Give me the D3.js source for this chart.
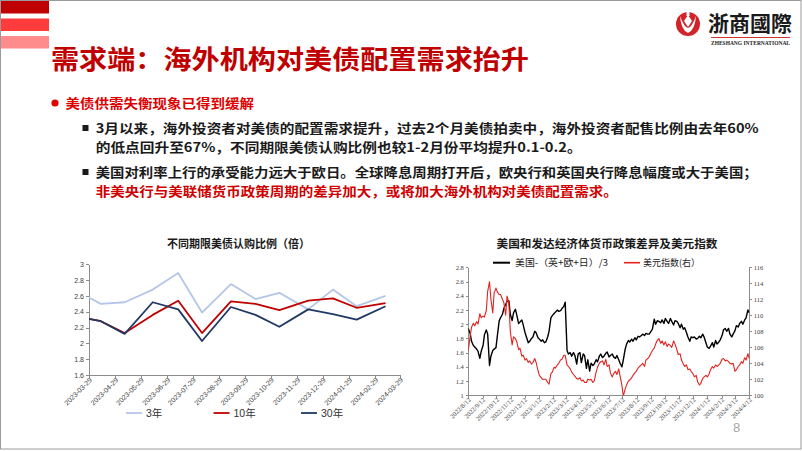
<!DOCTYPE html>
<html>
<head>
<meta charset="utf-8">
<title>需求端：海外机构对美债配置需求抬升</title>
<style>
  body { margin: 0; background: #fff; }
  svg { display: block; font-family: "Noto Sans CJK SC", sans-serif; }
  .ax path, .ax line { stroke: #8c8c8c; shape-rendering: crispEdges; }
  .ax1 text { font-family: "Liberation Sans", Arial, sans-serif; font-size: 7px; fill: #404040; }
  .ax2 text { font-family: "Liberation Serif", serif; font-size: 6.5px; fill: #404040; }
</style>
<script src="https://cdn.jsdelivr.net/npm/d3@7"></script>
</head>
<body>
<script>
// ---- left chart: bid-to-cover by tenor (10y auction date used for each month)
var auctionDates = ["2023-03-08","2023-04-12","2023-05-10","2023-06-12","2023-07-12","2023-08-09",
  "2023-09-12","2023-10-11","2023-11-08","2023-12-12","2024-01-10","2024-02-07","2024-03-12"];
var bid3y  = [2.70, 2.50, 2.52, 2.68, 2.89, 2.39, 2.75, 2.56, 2.64, 2.43, 2.68, 2.47, 2.60];
var bid10y = [2.355, 2.28, 2.13, 2.36, 2.54, 2.13, 2.53, 2.50, 2.42, 2.54, 2.57, 2.45, 2.51];
var bid30y = [2.355, 2.28, 2.12, 2.52, 2.43, 2.03, 2.46, 2.36, 2.21, 2.43, 2.37, 2.30, 2.47];
var leftXTicks = ["2023-03-29","2023-04-29","2023-05-29","2023-06-29","2023-07-29","2023-08-29",
  "2023-09-29","2023-10-29","2023-11-29","2023-12-29","2024-01-29","2024-02-29","2024-03-29"];
var leftYTicks = [1.6, 1.8, 2, 2.2, 2.4, 2.6, 2.8, 3];
var leftSeries = ["3年", "10年", "30年"];

// ---- right chart: policy gap (left axis) and dollar index (right axis)
var gapDates = [
"2022-08-12","2022-08-16","2022-08-19","2022-08-23","2022-08-26","2022-08-30","2022-09-02","2022-09-06","2022-09-09","2022-09-13",
"2022-09-16","2022-09-20","2022-09-23","2022-09-27","2022-09-30","2022-10-04","2022-10-07","2022-10-11","2022-10-14","2022-10-18",
"2022-10-21","2022-10-25","2022-10-28","2022-11-01","2022-11-04","2022-11-08","2022-11-11","2022-11-15","2022-11-18","2022-11-22",
"2022-11-25","2022-11-29","2022-12-02","2022-12-06","2022-12-09","2022-12-13","2022-12-16","2022-12-20","2022-12-23","2022-12-27",
"2022-12-30","2023-01-03","2023-01-06","2023-01-10","2023-01-13","2023-01-17","2023-01-20","2023-01-24","2023-01-27","2023-01-31",
"2023-02-03","2023-02-07","2023-02-10","2023-02-14","2023-02-17","2023-02-21","2023-02-24","2023-02-28","2023-03-03","2023-03-07",
"2023-03-10","2023-03-14","2023-03-17","2023-03-21","2023-03-24","2023-03-28","2023-03-31","2023-04-04","2023-04-07","2023-04-11",
"2023-04-14","2023-04-18","2023-04-21","2023-04-25","2023-04-28","2023-05-02","2023-05-05","2023-05-09","2023-05-12","2023-05-16",
"2023-05-19","2023-05-23","2023-05-26","2023-05-30","2023-06-02","2023-06-06","2023-06-09","2023-06-13","2023-06-16","2023-06-20",
"2023-06-23","2023-06-27","2023-06-30","2023-07-04","2023-07-07","2023-07-11","2023-07-14","2023-07-18","2023-07-21","2023-07-25",
"2023-07-28","2023-08-01","2023-08-04","2023-08-08","2023-08-11","2023-08-15","2023-08-18","2023-08-22","2023-08-25","2023-08-29",
"2023-09-01","2023-09-05","2023-09-08","2023-09-12","2023-09-15","2023-09-19","2023-09-22","2023-09-26","2023-09-29","2023-10-03",
"2023-10-06","2023-10-10","2023-10-13","2023-10-17","2023-10-20","2023-10-24","2023-10-27","2023-10-31","2023-11-03","2023-11-07",
"2023-11-10","2023-11-14","2023-11-17","2023-11-21","2023-11-24","2023-11-28","2023-12-01","2023-12-05","2023-12-08","2023-12-12",
"2023-12-15","2023-12-19","2023-12-22","2023-12-26","2023-12-29","2024-01-02","2024-01-05","2024-01-09","2024-01-12","2024-01-16",
"2024-01-19","2024-01-23","2024-01-26","2024-01-30","2024-02-02","2024-02-06","2024-02-09","2024-02-13","2024-02-16","2024-02-20",
"2024-02-23","2024-02-27","2024-03-01","2024-03-05","2024-03-08","2024-03-12","2024-03-15","2024-03-19","2024-03-22","2024-03-26",
"2024-03-29","2024-04-02","2024-04-05","2024-04-09","2024-04-12"];
var usMinusOthers = [
1.94,1.87,1.76,1.70,1.68,1.65,1.62,1.52,1.62,1.70, 1.85,1.92,1.86,1.42,1.55,1.63,1.65,1.67,1.84,2.05,
2.09,2.14,2.22,2.28,2.32,2.33,2.14,2.05,2.16,2.21, 2.13,2.01,2.03,2.06,1.99,1.88,1.82,1.74,1.76,1.80,
1.82,1.90,1.88,1.81,1.79,1.76,1.78,1.74,1.75,1.82, 1.90,2.09,2.12,2.15,2.17,2.20,2.18,2.19,2.22,2.25,
2.31,1.63,1.58,1.60,1.55,1.60,1.56,1.44,1.58,1.60, 1.46,1.58,1.56,1.38,1.50,1.34,1.45,1.42,1.44,1.50,
1.47,1.55,1.58,1.53,1.55,1.59,1.61,1.54,1.56,1.58, 1.54,1.52,1.56,1.50,1.45,1.40,1.50,1.65,1.72,1.77,
1.75,1.79,1.76,1.81,1.78,1.83,1.82,1.84,1.86,1.84, 1.87,1.86,1.86,1.90,1.93,2.07,2.00,2.05,2.04,2.02,
2.06,2.01,2.08,2.04,2.01,2.08,2.04,1.99,2.05,2.04, 2.01,1.95,2.00,1.93,1.95,1.88,1.82,1.76,1.82,1.81,
1.82,1.79,1.80,1.83,1.81,1.86,1.82,1.74,1.68,1.66, 1.69,1.74,1.68,1.77,1.72,1.75,1.78,1.84,1.92,1.94,
1.90,1.94,1.86,1.82,1.86,1.91,1.98,1.96,2.01,2.04, 2.00,2.06,2.09,2.20,2.16];
var dollarIndex = [
105.6,107.4,108.5,109.0,108.7,109.2,108.9,110.2,109.7,109.9, 109.8,110.6,113.0,114.2,112.0,110.3,112.8,113.4,112.9,112.6,
112.6,112.0,111.6,110.0,112.4,111.5,108.0,106.3,107.3,107.1, 106.7,105.7,105.9,104.9,105.0,104.4,104.6,104.1,104.3,103.9,
104.1,104.6,104.1,103.1,102.5,102.2,102.0,102.0,102.0,101.6, 101.4,102.7,102.9,103.5,103.4,103.8,104.0,104.4,104.5,105.0,
105.0,103.8,103.6,103.3,102.9,102.6,102.4,102.1,102.0,102.2, 101.8,101.9,101.6,101.6,102.0,101.9,102.0,101.6,101.8,102.9,
103.5,104.0,104.2,104.3,103.8,104.5,103.6,103.8,102.8,102.3, 102.7,103.0,102.6,103.3,102.4,101.2,99.9,100.8,101.3,101.8,
101.9,102.2,102.5,102.8,103.0,103.4,103.6,103.8,104.0,103.6, 104.4,104.6,104.8,105.3,105.6,105.9,106.4,106.9,107.1,106.5,
106.8,106.3,106.7,106.1,106.4,106.2,106.0,106.8,106.4,105.7, 105.1,105.2,104.4,103.9,103.6,103.8,103.2,103.3,103.0,102.7,
102.3,102.5,101.7,101.3,101.5,102.1,102.3,102.5,102.3,102.7, 103.2,103.6,103.4,103.8,103.6,103.8,104.0,104.5,104.6,104.3,
104.4,104.2,104.0,103.9,104.0,103.0,103.2,103.6,103.8,104.2, 104.0,104.7,104.4,105.2,104.6];
var rightXTicks = ["2022/8/12","2022/9/12","2022/10/12","2022/11/12","2022/12/12","2023/1/12","2023/2/12",
  "2023/3/12","2023/4/12","2023/5/12","2023/6/12","2023/7/12","2023/8/12","2023/9/12","2023/10/12",
  "2023/11/12","2023/12/12","2024/1/12","2024/2/12","2024/3/12","2024/4/12"];
var gapTicks = [1, 1.2, 1.4, 1.6, 1.8, 2, 2.2, 2.4, 2.6, 2.8];
var dxyTicks = [100, 102, 104, 106, 108, 110, 112, 114, 116];
var rightSeries = ["美国-（英+欧+日）/3", "美元指数(右）"];

var svg = d3.select("body").append("svg").attr("width", 802).attr("height", 451);

function label(x, y, s, size, fill, weight, len) {
  var t = svg.append("text").attr("x", x).attr("y", y).text(s)
    .attr("font-size", size).attr("fill", fill).attr("font-weight", weight || 400);
  if (len) t.attr("textLength", len).attr("lengthAdjust", "spacingAndGlyphs");
  return t;
}

// slide frame + header decoration
svg.append("rect").attr("x", 0.5).attr("y", 0.5).attr("width", 800.5).attr("height", 448.5)
  .attr("fill", "none").attr("stroke", "#9a9a9a");
svg.append("rect").attr("x", 1).attr("y", 1).attr("width", 48).attr("height", 12.5).attr("fill", "#c00000");
svg.append("rect").attr("x", 1).attr("y", 18.5).attr("width", 48).attr("height", 12.5).attr("fill", "#ff3c3c");
svg.append("rect").attr("x", 1).attr("y", 36).attr("width", 48).attr("height", 12.5).attr("fill", "#ff8c8c");

label(51, 68.5, "需求端：海外机构对美债配置需求抬升", 26, "#c00000", 700, 478);

// logo
svg.append("circle").attr("cx", 688).attr("cy", 24).attr("r", 12).attr("fill", "#d2232a");
svg.append("path").attr("d", "M680,16 Q681,30 688,33 Q695,30 696,16 Q692,27 688,28 Q684,27 680,16Z").attr("fill", "#fff");
svg.append("path").attr("d", "M688,15 L692,21 L688,27 L684,21Z").attr("fill", "#fff");
svg.append("rect").attr("x", 686.5).attr("y", 11).attr("width", 3).attr("height", 5).attr("fill", "#fff");
label(708, 31, "浙商國際", 21, "#1a1a1a", 700, 84);
svg.append("line").attr("x1", 711).attr("x2", 790).attr("y1", 37.5).attr("y2", 37.5)
  .attr("stroke", "#c00000").attr("stroke-width", 0.8);
label(711, 45, "ZHESHANG INTERNATIONAL", 6, "#1a1a1a", 700, 79).attr("font-family", "Liberation Serif, serif");

// bullets and body text
svg.append("circle").attr("cx", 55).attr("cy", 103).attr("r", 3.6).attr("fill", "#e00000");
label(65.5, 108, "美债供需失衡现象已得到缓解", 13, "#e00000", 700, 188.5);
svg.append("rect").attr("x", 82.5).attr("y", 125).attr("width", 6).attr("height", 6).attr("fill", "#1a1a1a");
svg.append("rect").attr("x", 82.5).attr("y", 169).attr("width", 6).attr("height", 6).attr("fill", "#1a1a1a");
label(95.7, 133.2, "3月以来，海外投资者对美债的配置需求提升，过去2个月美债拍卖中，海外投资者配售比例由去年60%", 12.7, "#1a1a1a", 700, 663);
label(95.7, 151.6, "的低点回升至67%，不同期限美债认购比例也较1-2月份平均提升0.1-0.2。", 12.7, "#1a1a1a", 700, 486);
label(95.7, 177.2, "美国对利率上行的承受能力远大于欧日。全球降息周期打开后，欧央行和英国央行降息幅度或大于美国；", 12.7, "#1a1a1a", 700, 662);
label(95.7, 195.6, "非美央行与美联储货币政策周期的差异加大，或将加大海外机构对美债配置需求。", 12.7, "#d00000", 700, 522);

label(733, 432, "8", 13, "#a6a6a6", 400).attr("font-family", "Liberation Sans, sans-serif");

// ================= left chart =================
var parse = d3.timeParse("%Y-%m-%d");
var x1 = d3.scaleTime().domain([parse(leftXTicks[0]), parse(leftXTicks[leftXTicks.length - 1])]).range([89, 400]);
var y1 = d3.scaleLinear().domain([1.6, 3]).range([375, 264.3]);

label(238.5, 247.5, "不同期限美债认购比例（倍）", 11.5, "#1a1a1a", 700, 143).attr("text-anchor", "middle");

svg.append("clipPath").attr("id", "clipL").append("rect")
  .attr("x", 89).attr("y", 250).attr("width", 311).attr("height", 130);

svg.append("g").attr("class", "ax ax1").attr("transform", "translate(89,0)")
  .call(d3.axisLeft(y1).tickValues(leftYTicks).tickSize(3).tickSizeOuter(0).tickPadding(2).tickFormat(d3.format("~g")));
var gx1 = svg.append("g").attr("class", "ax ax1").attr("transform", "translate(0,375)")
  .call(d3.axisBottom(x1).tickValues(leftXTicks.map(parse)).tickSize(3).tickSizeOuter(0)
    .tickFormat(function (d, i) { return leftXTicks[i]; }));
gx1.selectAll("text").attr("x", 0).attr("y", 0).attr("dy", null)
  .attr("text-anchor", "end").attr("font-size", 6.8).attr("transform", "translate(3,5.5) rotate(-45)");

var leftColors = ["#b4c6e7", "#c00000", "#1f3864"];
var leftValues = [bid3y, bid10y, bid30y];
var line1 = d3.line().x(function (d) { return x1(d.date); }).y(function (d) { return y1(d.v); });
leftValues.forEach(function (vals, k) {
  var pts = auctionDates.map(function (s, i) { return { date: parse(s), v: vals[i] }; });
  svg.append("path").datum(pts).attr("d", line1).attr("clip-path", "url(#clipL)")
    .attr("fill", "none").attr("stroke", leftColors[k]).attr("stroke-width", 1.8)
    .attr("stroke-linejoin", "round");
});

leftSeries.forEach(function (name, i) {
  var lx = 126 + i * 87.5;
  svg.append("line").attr("x1", lx).attr("x2", lx + 16).attr("y1", 413).attr("y2", 413)
    .attr("stroke", leftColors[i]).attr("stroke-width", 1.8);
  label(lx + 20, 417, name, 10.5, "#333", 400).attr("font-family", "Liberation Sans, Noto Sans CJK SC, sans-serif");
});

// ================= right chart =================
var parse2 = d3.timeParse("%Y/%m/%d");
var x2 = d3.scaleTime().domain([parse("2022-08-12"), parse("2024-04-12")]).range([468.3, 749.3]);
var yL = d3.scaleLinear().domain([1, 2.8]).range([395.3, 267.3]);
var yR = d3.scaleLinear().domain([100, 116]).range([395.3, 267.3]);

label(607, 247.5, "美国和发达经济体货币政策差异及美元指数", 11.5, "#1a1a1a", 700, 221).attr("text-anchor", "middle");

svg.append("clipPath").attr("id", "clipR").append("rect")
  .attr("x", 468.3).attr("y", 262).attr("width", 281).attr("height", 133.3);

svg.append("g").attr("class", "ax ax2").attr("transform", "translate(468.3,0)")
  .call(d3.axisLeft(yL).tickValues(gapTicks).tickSize(2.5).tickSizeOuter(0).tickPadding(2).tickFormat(d3.format("~g")));
svg.append("g").attr("class", "ax ax2").attr("transform", "translate(749.3,0)")
  .call(d3.axisRight(yR).tickValues(dxyTicks).tickSize(2.5).tickSizeOuter(0).tickPadding(2));
var gx2 = svg.append("g").attr("class", "ax ax2").attr("transform", "translate(0,395.3)")
  .call(d3.axisBottom(x2).tickValues(rightXTicks.map(parse2)).tickSize(2.5).tickSizeOuter(0)
    .tickFormat(function (d, i) { return rightXTicks[i]; }));
gx2.selectAll("text").attr("x", 0).attr("y", 0).attr("dy", null)
  .attr("text-anchor", "end").attr("transform", "translate(2.5,5) rotate(-45)");

var gapPts = gapDates.map(function (s, i) { return { date: parse(s), v: usMinusOthers[i] }; });
var dxyPts = gapDates.map(function (s, i) { return { date: parse(s), v: dollarIndex[i] }; });
svg.append("path").datum(gapPts).attr("clip-path", "url(#clipR)")
  .attr("d", d3.line().x(function (d) { return x2(d.date); }).y(function (d) { return yL(d.v); }))
  .attr("fill", "none").attr("stroke", "#000").attr("stroke-width", 1.4).attr("stroke-linejoin", "round");
svg.append("path").datum(dxyPts).attr("clip-path", "url(#clipR)")
  .attr("d", d3.line().x(function (d) { return x2(d.date); }).y(function (d) { return yR(d.v); }))
  .attr("fill", "none").attr("stroke", "#e3211d").attr("stroke-width", 1.1).attr("stroke-linejoin", "round");

// right legend
svg.append("line").attr("x1", 493).attr("x2", 510).attr("y1", 262.7).attr("y2", 262.7)
  .attr("stroke", "#000").attr("stroke-width", 2);
label(515, 266.2, rightSeries[0], 9.5, "#222", 400, 93);
svg.append("line").attr("x1", 624).attr("x2", 640).attr("y1", 262.7).attr("y2", 262.7)
  .attr("stroke", "#e3211d").attr("stroke-width", 1.6);
label(643, 266.2, rightSeries[1], 9.5, "#222", 400, 57);
</script>
</body>
</html>
